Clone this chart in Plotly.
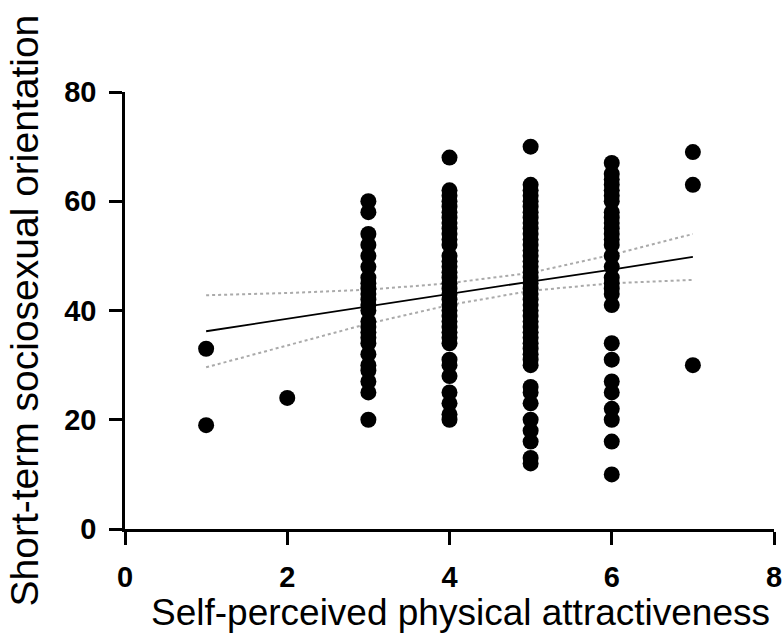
import plotly.graph_objects as go

# Data (x = self-perceived attractiveness rating, y = SOI score)
col1 = [33, 19]
col2 = [24]
col3 = [60, 58, 54, 52, 50, 48, 46, 45, 44, 43, 42, 41, 40, 38, 37, 36, 35, 34, 32, 30, 29, 27, 25, 20]
col4 = [68, 62, 61, 60, 59, 58, 57, 56, 55, 54, 53, 52, 50, 49, 48, 47, 46, 45, 44, 43, 42, 41,
        40, 39, 38, 37, 36, 35, 34, 31, 30, 28, 25, 23, 21, 20]
col5 = [70, 63, 62, 61, 60, 59, 58, 57, 56, 55, 54, 53, 52, 51, 50, 49, 48, 47, 46, 45, 44, 43, 42,
        41, 40, 39, 38, 37, 36, 35, 34, 33, 32, 31, 30, 26, 25, 23, 20, 18, 16, 13, 12]
col6 = [67, 65, 64, 63, 62, 61, 60, 58, 57, 56, 55, 54, 53, 52, 50, 48, 46, 45, 44, 43, 41,
        34, 31, 27, 25, 22, 20, 16, 10]
col7 = [69, 63, 30]

columns = {1: col1, 2: col2, 3: col3, 4: col4, 5: col5, 6: col6, 7: col7}

# Regression line and 95% confidence band
fit_x = [1, 2, 3, 4, 5, 6, 7]
fit_y = [36.2, 38.5, 40.7, 43.0, 45.3, 47.5, 49.8]
ci_upper = [42.8, 43.2, 43.8, 45.0, 46.9, 50.2, 54.0]
ci_lower = [29.6, 33.6, 37.6, 41.0, 43.6, 45.0, 45.6]

x_title = "Self-perceived physical attractiveness"
y_title = "Short-term sociosexual orientation"

xs, ys = [], []
for k, vals in columns.items():
    xs += [k] * len(vals)
    ys += vals

fig = go.Figure()
fig.add_trace(go.Scatter(x=fit_x, y=ci_upper, mode="lines",
                         line=dict(color="#aaaaaa", width=2, dash="dot"), hoverinfo="skip"))
fig.add_trace(go.Scatter(x=fit_x, y=ci_lower, mode="lines",
                         line=dict(color="#aaaaaa", width=2, dash="dot"), hoverinfo="skip"))
fig.add_trace(go.Scatter(x=xs, y=ys, mode="markers",
                         marker=dict(color="black", size=16, line=dict(width=0))))
fig.add_trace(go.Scatter(x=fit_x, y=fit_y, mode="lines",
                         line=dict(color="black", width=1.8)))

fam = "Liberation Sans, Arial, sans-serif"
tickfont = dict(size=29, family=fam, color="black", weight="bold")

fig.update_layout(
    width=783, height=639,
    showlegend=False,
    plot_bgcolor="white", paper_bgcolor="white",
    margin=dict(l=125, r=9, t=92, b=110, autoexpand=False),
    font=dict(family=fam, color="black"),
)
common = dict(showgrid=False, zeroline=False, showline=True, linecolor="black", linewidth=2.5,
              ticks="outside", ticklen=13, tickwidth=2.5, tickcolor="black",
              tickfont=tickfont, automargin=False, ticklabelstandoff=7)
fig.update_xaxes(range=[0, 8], tickvals=[0, 2, 4, 6, 8], **common)
fig.update_yaxes(range=[0, 80], tickvals=[0, 20, 40, 60, 80], **common)

fig.add_annotation(text=x_title, xref="paper", yref="paper", x=0.5, y=0,
                   xshift=11, yshift=-83, xanchor="center", yanchor="middle",
                   showarrow=False, font=dict(size=37, family=fam, color="black"))
fig.add_annotation(text=y_title, xref="paper", yref="paper", x=0, y=0.5,
                   xshift=-101, xanchor="center", yanchor="middle", textangle=-90,
                   showarrow=False, font=dict(size=39, family=fam, color="black"))

fig.write_html("out.html", config={"displayModeBar": False},
               post_script="document.body.style.margin='0';document.body.style.overflow='hidden';")
